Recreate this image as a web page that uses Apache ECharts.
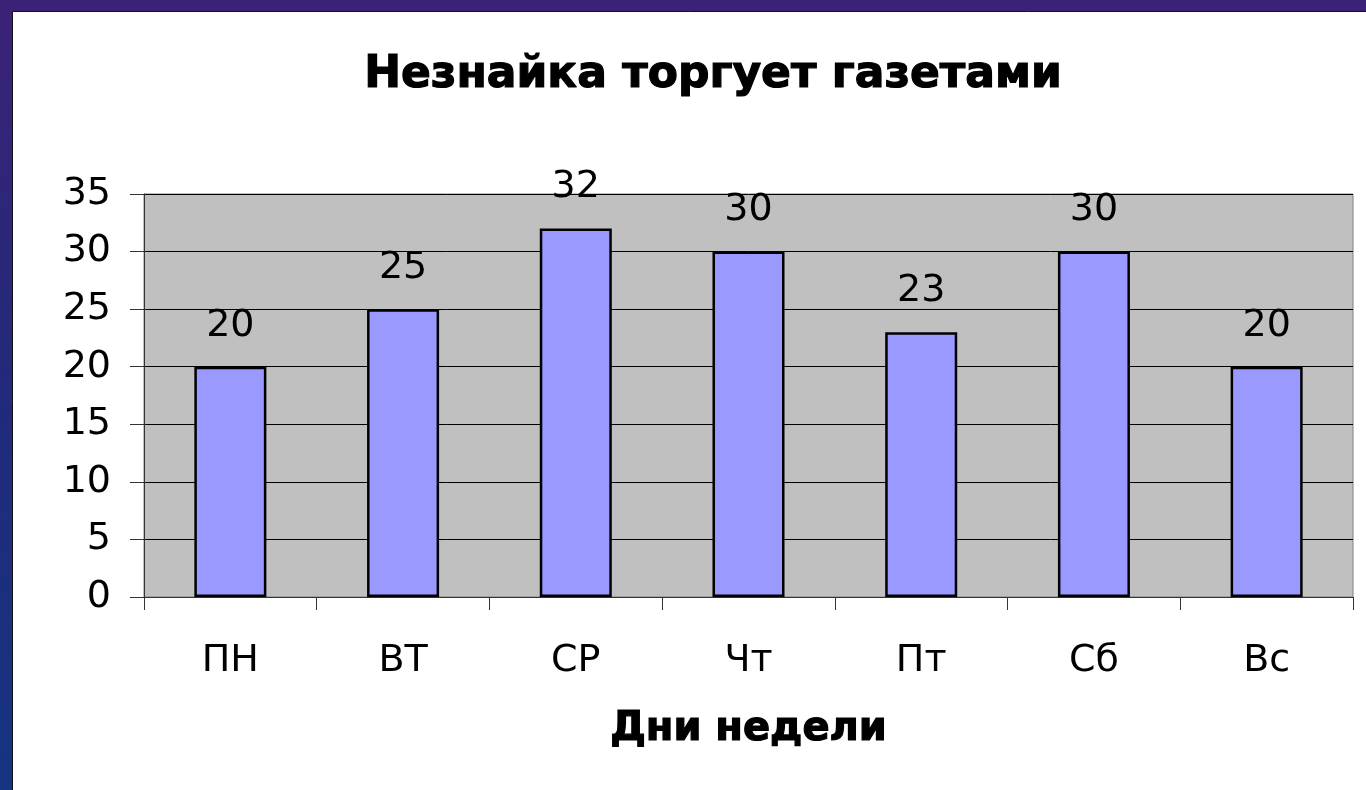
<!DOCTYPE html>
<html>
<head>
<meta charset="utf-8">
<title>Незнайка торгует газетами</title>
<script src="https://cdn.jsdelivr.net/npm/echarts@6/dist/echarts.min.js"></script>
<style>
  html, body { margin: 0; padding: 0; width: 1366px; height: 790px; overflow: hidden; }
  #chart { width: 1366px; height: 790px; }
</style>
</head>
<body>
<div id="chart"></div>
<script>
// Newspapers sold per day of the week
const days = ['ПН', 'ВТ', 'СР', 'Чт', 'Пт', 'Сб', 'Вс'];
const sold = [20, 25, 32, 30, 23, 30, 20];
const yTicks = { min: 0, max: 35, step: 5 };
const chartTitle = 'Незнайка торгует газетами';
const xAxisTitle = 'Дни недели';

const textFont = 'DejaVu Sans, Verdana, sans-serif';

const chart = echarts.init(document.getElementById('chart'), null, { renderer: 'canvas' });

chart.setOption({
  animation: false,
  backgroundColor: {
    type: 'linear', x: 0, y: 0, x2: 0, y2: 1,
    colorStops: [
      { offset: 0, color: '#3b2277' },
      { offset: 0.5, color: '#222a7a' },
      { offset: 1, color: '#153482' }
    ]
  },
  graphic: [
    {
      type: 'rect',
      z: -10,
      silent: true,
      shape: { x: 12.5, y: 11.5, width: 1366, height: 800 },
      style: { fill: '#ffffff', stroke: '#111111', lineWidth: 1 }
    }
  ],
  title: {
    text: chartTitle,
    left: 708,
    top: 49,
    textAlign: 'center',
    textStyle: {
      fontFamily: textFont,
      fontWeight: 'bold',
      fontSize: 44,
      color: '#000000',
      textBorderColor: '#000000',
      textBorderWidth: 1.2
    }
  },
  grid: {
    left: 144,
    right: 13,
    top: 194,
    bottom: 193,
    show: true,
    backgroundColor: '#c0c0c0',
    borderColor: '#808080',
    borderWidth: 1
  },
  xAxis: {
    type: 'category',
    data: days,
    name: xAxisTitle,
    nameLocation: 'middle',
    nameGap: 113,
    nameTextStyle: {
      fontFamily: textFont,
      fontWeight: 'bold',
      fontSize: 40,
      color: '#000000',
      textBorderColor: '#000000',
      textBorderWidth: 1.2
    },
    axisLine: { show: true, lineStyle: { color: '#333333', width: 1 } },
    axisTick: { show: true, length: 13, lineStyle: { color: '#333333', width: 1 } },
    axisLabel: {
      margin: 45,
      fontFamily: textFont,
      fontSize: 38,
      color: '#000000'
    },
    splitLine: { show: false }
  },
  yAxis: {
    type: 'value',
    min: yTicks.min,
    max: yTicks.max,
    interval: yTicks.step,
    axisLine: { show: true, lineStyle: { color: '#333333', width: 1 } },
    axisTick: { show: true, length: 14, lineStyle: { color: '#333333', width: 1 } },
    axisLabel: {
      margin: 33,
      fontFamily: textFont,
      fontSize: 38,
      color: '#000000'
    },
    splitLine: { show: true, lineStyle: { color: '#000000', width: 1 } }
  },
  series: [
    {
      type: 'bar',
      data: sold,
      barWidth: '41.7%',
      itemStyle: {
        color: '#9999ff',
        borderColor: '#000000',
        borderWidth: 2.5
      },
      label: {
        show: true,
        position: 'top',
        distance: 22,
        fontFamily: textFont,
        fontSize: 38,
        color: '#000000'
      }
    }
  ]
});
</script>
</body>
</html>
